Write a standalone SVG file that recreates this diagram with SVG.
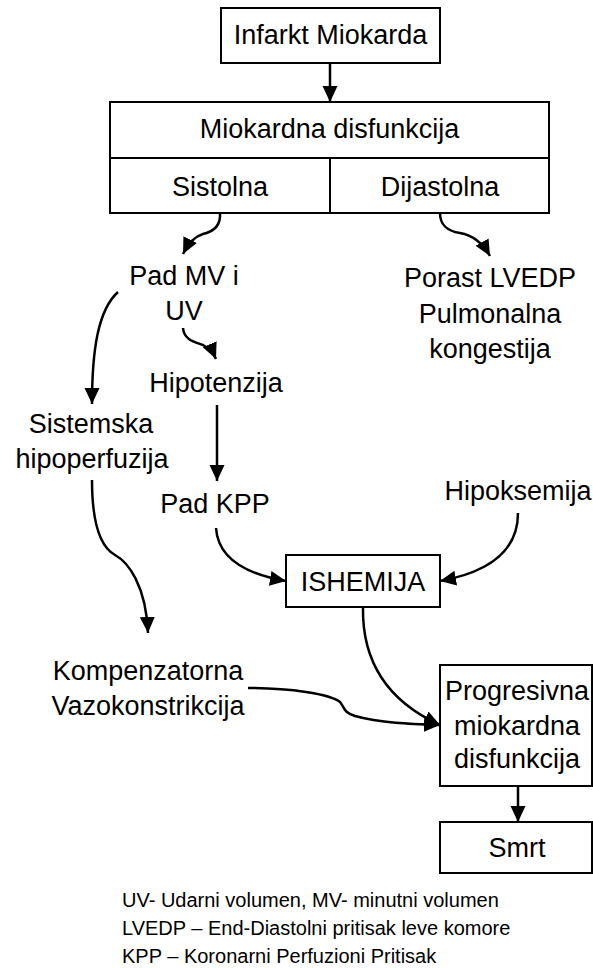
<svg xmlns="http://www.w3.org/2000/svg" width="593" height="968" viewBox="0 0 593 968">
  <style>
    .box { fill: #ffffff; stroke: #000000; stroke-width: 2; }
    .sep { stroke: #000000; stroke-width: 2; fill: none; }
    .lbl { font-family: "Liberation Sans", Arial, sans-serif; font-size: 27px; fill: #000000; text-anchor: middle; }
    .legend { font-family: "Liberation Sans", Arial, sans-serif; font-size: 20px; fill: #000000; }
    .edge { fill: none; stroke: #000000; stroke-width: 2.5; marker-end: url(#arrow); }
  </style>
  <defs>
    <marker id="arrow" markerUnits="userSpaceOnUse" markerWidth="18" markerHeight="18" viewBox="0 0 18 18" refX="16" refY="9" orient="auto">
      <path d="M0 1.5 L16 9 L0 16.5 Z" fill="#000000"/>
    </marker>
  </defs>

  <rect width="593" height="968" fill="#ffffff"/>

  <!-- connectors -->
  <g id="connectors">
    <path class="edge" d="M330 63 V102"/>
    <path class="edge" d="M220 213 C221 227 212 232 203 234 C196 236 189 242 183 254"/>
    <path class="edge" d="M440 213 C440 226 448 231 460 233 C472 235 482 242 490 256"/>
    <path class="edge" d="M118 292 C98 310 92 350 92 404"/>
    <path class="edge" d="M183 328 C184 340 195 342 203 345 C209 348 213 352 216 359"/>
    <path class="edge" d="M217 405 V481"/>
    <path class="edge" d="M92 480 C92 515 97 545 115 555 C128 562 146 585 148 633"/>
    <path class="edge" d="M216 528 C218 558 245 574 286 581"/>
    <path class="edge" d="M518 513 C518 550 490 572 440 581"/>
    <path class="edge" d="M363 607 C362 660 385 700 440 725"/>
    <path class="edge" d="M248 688 C290 688 330 694 340 702 C345 708 343 712 355 716 C380 723 410 724 440 725"/>
    <path class="edge" d="M518 786 V822"/>
  </g>

  <g id="infarkt">
    <rect class="box" x="221" y="8" width="219" height="55"/>
    <text class="lbl" x="330.5" y="44">Infarkt Miokarda</text>
  </g>

  <g id="disfunkcija">
    <rect class="box" x="110" y="102" width="439" height="111"/>
    <line class="sep" x1="110" y1="158" x2="549" y2="158"/>
    <line class="sep" x1="330" y1="158" x2="330" y2="213"/>
    <text class="lbl" x="329.5" y="138">Miokardna disfunkcija</text>
  </g>

  <g id="sistolna">
    <text class="lbl" x="220" y="196">Sistolna</text>
  </g>

  <g id="dijastolna">
    <text class="lbl" x="440" y="196">Dijastolna</text>
  </g>

  <g id="pad-mv">
    <text class="lbl" x="184" y="285">Pad MV i</text>
    <text class="lbl" x="184" y="320">UV</text>
  </g>

  <g id="hipotenzija">
    <text class="lbl" x="216" y="392">Hipotenzija</text>
  </g>

  <g id="hipoperfuzija">
    <text class="lbl" x="91" y="433">Sistemska</text>
    <text class="lbl" x="92" y="468">hipoperfuzija</text>
  </g>

  <g id="pad-kpp">
    <text class="lbl" x="215" y="513">Pad KPP</text>
  </g>

  <g id="lvedp">
    <text class="lbl" x="490" y="287">Porast LVEDP</text>
    <text class="lbl" x="490" y="323">Pulmonalna</text>
    <text class="lbl" x="490" y="358">kongestija</text>
  </g>

  <g id="hipoksemija">
    <text class="lbl" x="518" y="500">Hipoksemija</text>
  </g>

  <g id="ishemija">
    <rect class="box" x="286" y="555" width="154" height="52"/>
    <text class="lbl" x="363" y="591">ISHEMIJA</text>
  </g>

  <g id="vazokonstrikcija">
    <text class="lbl" x="148" y="680">Kompenzatorna</text>
    <text class="lbl" x="148" y="715">Vazokonstrikcija</text>
  </g>

  <g id="progresivna">
    <rect class="box" x="440" y="665" width="152" height="121"/>
    <text class="lbl" x="517" y="700">Progresivna</text>
    <text class="lbl" x="517" y="735">miokardna</text>
    <text class="lbl" x="517" y="768">disfunkcija</text>
  </g>

  <g id="smrt">
    <rect class="box" x="440" y="822" width="152" height="51"/>
    <text class="lbl" x="517" y="857">Smrt</text>
  </g>

  <g id="legenda">
    <text class="legend" x="122" y="907">UV- Udarni volumen, MV- minutni volumen</text>
    <text class="legend" x="122" y="935">LVEDP – End-Diastolni pritisak leve komore</text>
    <text class="legend" x="122" y="963">KPP – Koronarni Perfuzioni Pritisak</text>
  </g>
</svg>
